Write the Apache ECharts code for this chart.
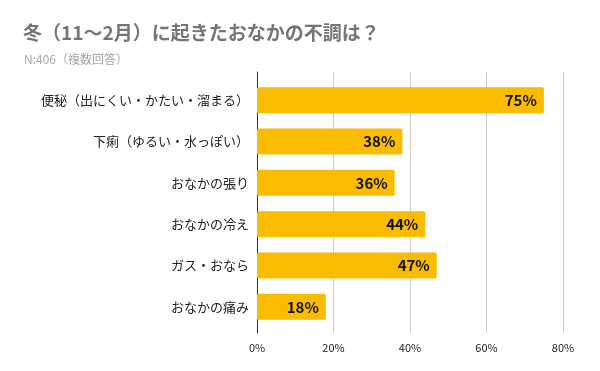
<!DOCTYPE html>
<html><head><meta charset="utf-8">
<script src="https://cdn.jsdelivr.net/npm/echarts@6/dist/echarts.min.js"></script>
<style>html,body{margin:0;padding:0;background:#fff}#c{width:600px;height:371px}</style>
</head><body><div id="c"></div>
<script>
const categories = ['便秘（出にくい・かたい・溜まる）','下痢（ゆるい・水っぽい）','おなかの張り','おなかの冷え','ガス・おなら','おなかの痛み'];
const values = [75, 38, 36, 44, 47, 18];
const xTicks = [0, 20, 40, 60, 80];
const titleText = '冬（11〜2月）に起きたおなかの不調は？';
const subText = 'N:406（複数回答）';

const FONT = '"Noto Sans CJK JP", "Noto Sans", sans-serif';
const chart = echarts.init(document.getElementById('c'), null, {renderer:'canvas'});
chart.setOption({
  backgroundColor:'#fff',
  animation:false,
  title:[
    {text:titleText, left:18, top:18, textStyle:{fontFamily:FONT, fontSize:19, fontWeight:'bold', color:'#757575'}},
    {text:subText, left:19, top:48, textStyle:{fontFamily:FONT, fontSize:12, fontWeight:'normal', color:'#a6a6a6'}}
  ],
  grid:[
    {left:257, right:37, top:72, bottom:38, containLabel:false},
    {left:257, right:37, top:79.5, bottom:43.5, containLabel:false}
  ],
  xAxis:[
    {gridIndex:0, type:'value', min:xTicks[0], max:xTicks[xTicks.length-1], interval:20,
     axisLine:{show:false}, axisTick:{show:false},
     splitLine:{show:true, lineStyle:{color:'#cccccc', width:1}},
     axisLabel:{formatter:'{value}%', fontFamily:FONT, fontSize:11, color:'#222', margin:9}},
    {gridIndex:1, type:'value', min:xTicks[0], max:xTicks[xTicks.length-1], show:false}
  ],
  yAxis:[
    {gridIndex:0, type:'value', axisLine:{show:true, lineStyle:{color:'#333', width:1}},
     axisTick:{show:false}, axisLabel:{show:false}, splitLine:{show:false}},
    {gridIndex:1, type:'category', inverse:true, data:categories,
     axisLine:{show:false}, axisTick:{show:false},
     axisLabel:{fontFamily:FONT, fontSize:13, color:'#222', margin:8}}
  ],
  series:[{
    type:'bar', xAxisIndex:1, yAxisIndex:1, data:values,
    barCategoryGap:'37%',
    itemStyle:{color:'#f9bc00', borderRadius:1.5},
    label:{show:true, position:'insideRight', distance:7, formatter:'{c}%',
      fontFamily:FONT, fontSize:15, fontWeight:'bold', color:'#111'}
  }]
});
</script></body></html>
